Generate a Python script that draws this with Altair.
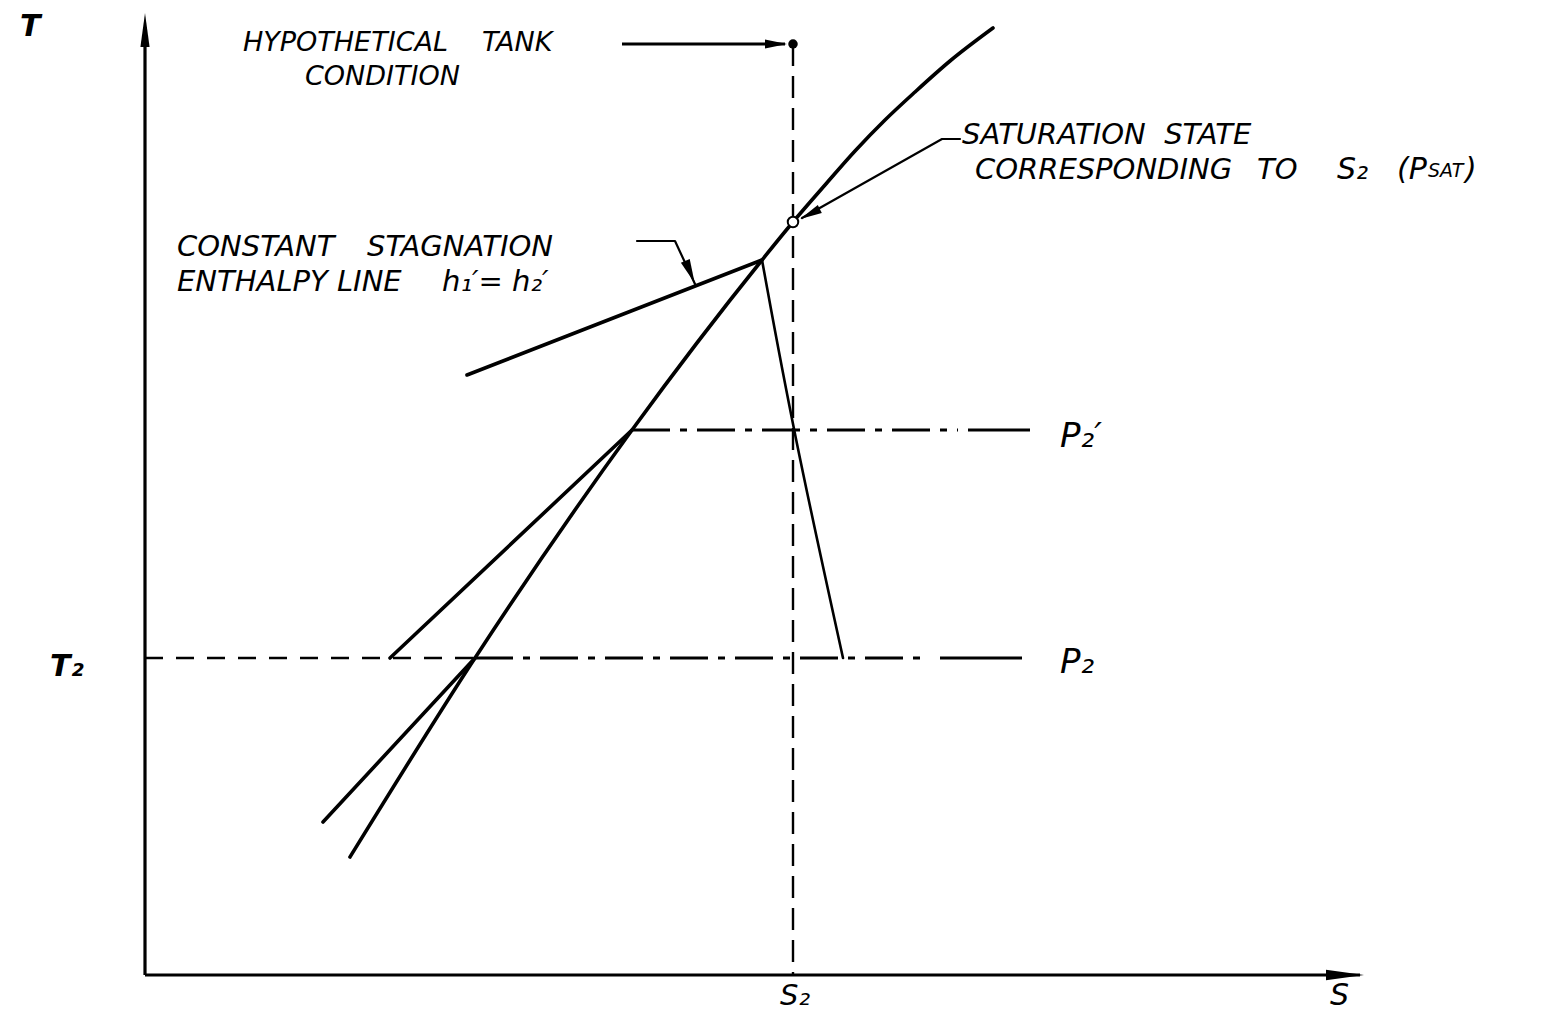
import altair as alt
import pandas as pd

# ---------------- values ----------------
# drawing units: s measured right of the T axis, T measured up from the s axis
S2 = 648          # s2 (vertical dashed line)
T2_LEVEL = 317    # T2 / P2 level
P2P_LEVEL = 545   # P2' level
TANK_T = 931      # hypothetical tank condition
SAT_POINT_T = 753 # saturation state corresponding to s2

# saturation line
sat_s = [205, 330, 487, 617, 648, 680, 710, 740, 770, 805, 848]
sat_T = [118, 317, 545, 715, 753, 790, 824, 855, 883, 914, 947]

# constant stagnation enthalpy line
h_upper_s = [322, 617]
h_upper_T = [600, 715]
h_lower_s = [617, 648, 698]
h_lower_T = [715, 545, 317]

# sloped parts of the isobars
p2_slope_s = [178, 330]
p2_slope_T = [153, 317]
p2p_slope_s = [245, 487]
p2p_slope_T = [317, 545]

# horizontal parts (start s, end s)
t2_dashed = [0, 330]
p2_dashdot = [330, 785]
p2_solid = [795, 877]
p2p_dashdot = [487, 813]
p2p_solid = [823, 885]
tank_arrow = [477, 640]

# axes
s_axis_end = 1215
T_axis_end = 948

# leader lines
sat_leader_s = [815, 797, 657]
sat_leader_T = [836, 836, 757]
stag_leader_s = [492, 530, 550]
stag_leader_T = [734, 734, 691]

NB = "\u00a0"
# text labels
lab_text = ["T", "T\u2082",
            "HYPOTHETICAL", "TANK", "CONDITION",
            "SATURATION" + NB + " STATE", "CORRESPONDING", "TO",
            "S\u2082", "(P", "SAT", ")",
            "CONSTANT", "STAGNATION", "ENTHALPY LINE", "h\u2081\u2032= h\u2082\u2032",
            "P\u2082\u2032", "P\u2082", "S\u2082", "S"]
lab_s = [-125, -95,
         98, 337, 160,
         817, 830, 1112,
         1192, 1252, 1283, 1320,
         32, 222, 32, 297,
         915, 915, 635, 1185]
lab_T = [939, 299,
         924, 924, 890,
         831, 796, 796,
         796, 796, 798, 796,
         719, 719, 684, 684,
         528, 302, -30, -30]
lab_fs = [30, 30,
          27, 27, 27,
          29, 29, 29,
          30, 30, 19, 30,
          29, 29, 29, 29,
          34, 34, 29, 30]
lab_weight = ["bold", "bold"] + ["normal"] * 18

# ---------------- chart ----------------
W, H = 1529, 1007
OX, OY = 145, 975   # page position of the axes corner
xs = alt.Scale(domain=[8 - OX, 8 + W - OX], nice=False, zero=False)
ys = alt.Scale(domain=[OY - (8 + H), OY - 8], nice=False, zero=False)
X = lambda f: alt.X(f, scale=xs, axis=None)
Y = lambda f: alt.Y(f, scale=ys, axis=None)


def seq(name, s, T):
    return pd.DataFrame({"id": name, "i": list(range(len(s))), "s": s, "T": T})


curve_df = seq("sat", sat_s, sat_T)
thick_df = pd.concat([
    seq("hup", h_upper_s, h_upper_T),
    seq("p2", p2_slope_s, p2_slope_T),
    seq("p2p", p2p_slope_s, p2p_slope_T),
])
hlow_df = seq("hlow", h_lower_s, h_lower_T)
lead_df = pd.concat([
    seq("satlead", sat_leader_s, sat_leader_T),
    seq("staglead", stag_leader_s, stag_leader_T),
])

curve = alt.Chart(curve_df).mark_line(color="black", strokeWidth=3.6, strokeCap="round",
                                      interpolate="monotone").encode(
    x=X("s:Q"), y=Y("T:Q"), detail="id:N", order="i:Q")
thick = alt.Chart(thick_df).mark_line(color="black", strokeWidth=3.6, strokeCap="round",
                                      strokeJoin="round").encode(
    x=X("s:Q"), y=Y("T:Q"), detail="id:N", order="i:Q")
hlow = alt.Chart(hlow_df).mark_line(color="black", strokeWidth=2.6, strokeCap="round",
                                    interpolate="basis").encode(
    x=X("s:Q"), y=Y("T:Q"), detail="id:N", order="i:Q")
leads = alt.Chart(lead_df).mark_line(color="black", strokeWidth=2.2, strokeCap="round",
                                     strokeJoin="round").encode(
    x=X("s:Q"), y=Y("T:Q"), detail="id:N", order="i:Q")


def rules(rows):
    return pd.DataFrame(rows, columns=["s", "T", "s_end", "T_end"])


solid_rules = rules([
    [0, 0, s_axis_end, 0],
    [0, 0, 0, T_axis_end],
    [p2_solid[0], T2_LEVEL, p2_solid[1], T2_LEVEL],
    [p2p_solid[0], P2P_LEVEL, p2p_solid[1], P2P_LEVEL],
    [tank_arrow[0], TANK_T, tank_arrow[1], TANK_T],
])
dashdot_rules = rules([
    [p2_dashdot[0], T2_LEVEL, p2_dashdot[1], T2_LEVEL],
    [p2p_dashdot[0], P2P_LEVEL, p2p_dashdot[1], P2P_LEVEL],
])
vdash_rules = rules([[S2, TANK_T, S2, 0]])
hdash_rules = rules([[t2_dashed[0], T2_LEVEL, t2_dashed[1], T2_LEVEL]])


def rule_layer(df, width, dash=None):
    kw = dict(color="black", strokeWidth=width)
    if dash:
        kw["strokeDash"] = dash
    return alt.Chart(df).mark_rule(**kw).encode(
        x=X("s:Q"), x2="s_end:Q", y=Y("T:Q"), y2="T_end:Q")


solid = rule_layer(solid_rules, 3.2)
dashdot = rule_layer(dashdot_rules, 3.0, [38, 10, 7, 10])
vdash = rule_layer(vdash_rules, 2.4, [22, 10])
hdash = rule_layer(hdash_rules, 2.6, [18, 13])

# arrowheads: centre, rotation, length^2
axis_arrows = pd.DataFrame({"s": [0, 1200], "T": [945, 0], "angle": [270, 0],
                            "size": [34 * 34, 38 * 38]})
lead_arrows = pd.DataFrame({"s": [631, 665, 545], "T": [931, 761, 703],
                            "angle": [0, 153, 67], "size": [22 * 22, 22 * 22, 24 * 24]})

axis_heads = alt.Chart(axis_arrows).mark_point(
    shape="M1,0L-1,-0.27L-1,0.27Z", filled=True, color="black", opacity=1).encode(
    x=X("s:Q"), y=Y("T:Q"), angle=alt.Angle("angle:Q", scale=None),
    size=alt.Size("size:Q", scale=None))
lead_heads = alt.Chart(lead_arrows).mark_point(
    shape="M1,0L-1,-0.4L-1,0.4Z", filled=True, color="black", opacity=1).encode(
    x=X("s:Q"), y=Y("T:Q"), angle=alt.Angle("angle:Q", scale=None),
    size=alt.Size("size:Q", scale=None))

tank_dot = alt.Chart(pd.DataFrame({"s": [S2], "T": [TANK_T]})).mark_point(
    shape="circle", filled=True, color="black", opacity=1, size=90).encode(
    x=X("s:Q"), y=Y("T:Q"))
sat_circle = alt.Chart(pd.DataFrame({"s": [S2], "T": [SAT_POINT_T]})).mark_point(
    shape="circle", filled=False, color="black", opacity=1, size=110, strokeWidth=2,
    fill="white").encode(x=X("s:Q"), y=Y("T:Q"))

lab_df = pd.DataFrame({"text": lab_text, "s": lab_s, "T": lab_T, "fs": lab_fs,
                       "w": lab_weight})


def text_layer(df, weight):
    return alt.Chart(df).mark_text(
        font="DejaVu Sans", fontStyle="italic", fontWeight=weight, align="left",
        baseline="alphabetic", color="black").encode(
        x=X("s:Q"), y=Y("T:Q"), text="text:N", size=alt.Size("fs:Q", scale=None))


bold_labels = text_layer(lab_df[lab_df["w"] == "bold"], "bold")
plain_labels = text_layer(lab_df[lab_df["w"] == "normal"], "normal")

chart = alt.layer(
    hdash, vdash, dashdot, solid, curve, thick, hlow, leads, axis_heads, lead_heads,
    tank_dot, sat_circle, bold_labels, plain_labels
).properties(
    width=W, height=H, padding=0, background="white",
    autosize=alt.AutoSizeParams(type="none")
).configure_view(strokeWidth=0)

chart.save("out.html", embed_options={"renderer": "svg", "actions": False})
